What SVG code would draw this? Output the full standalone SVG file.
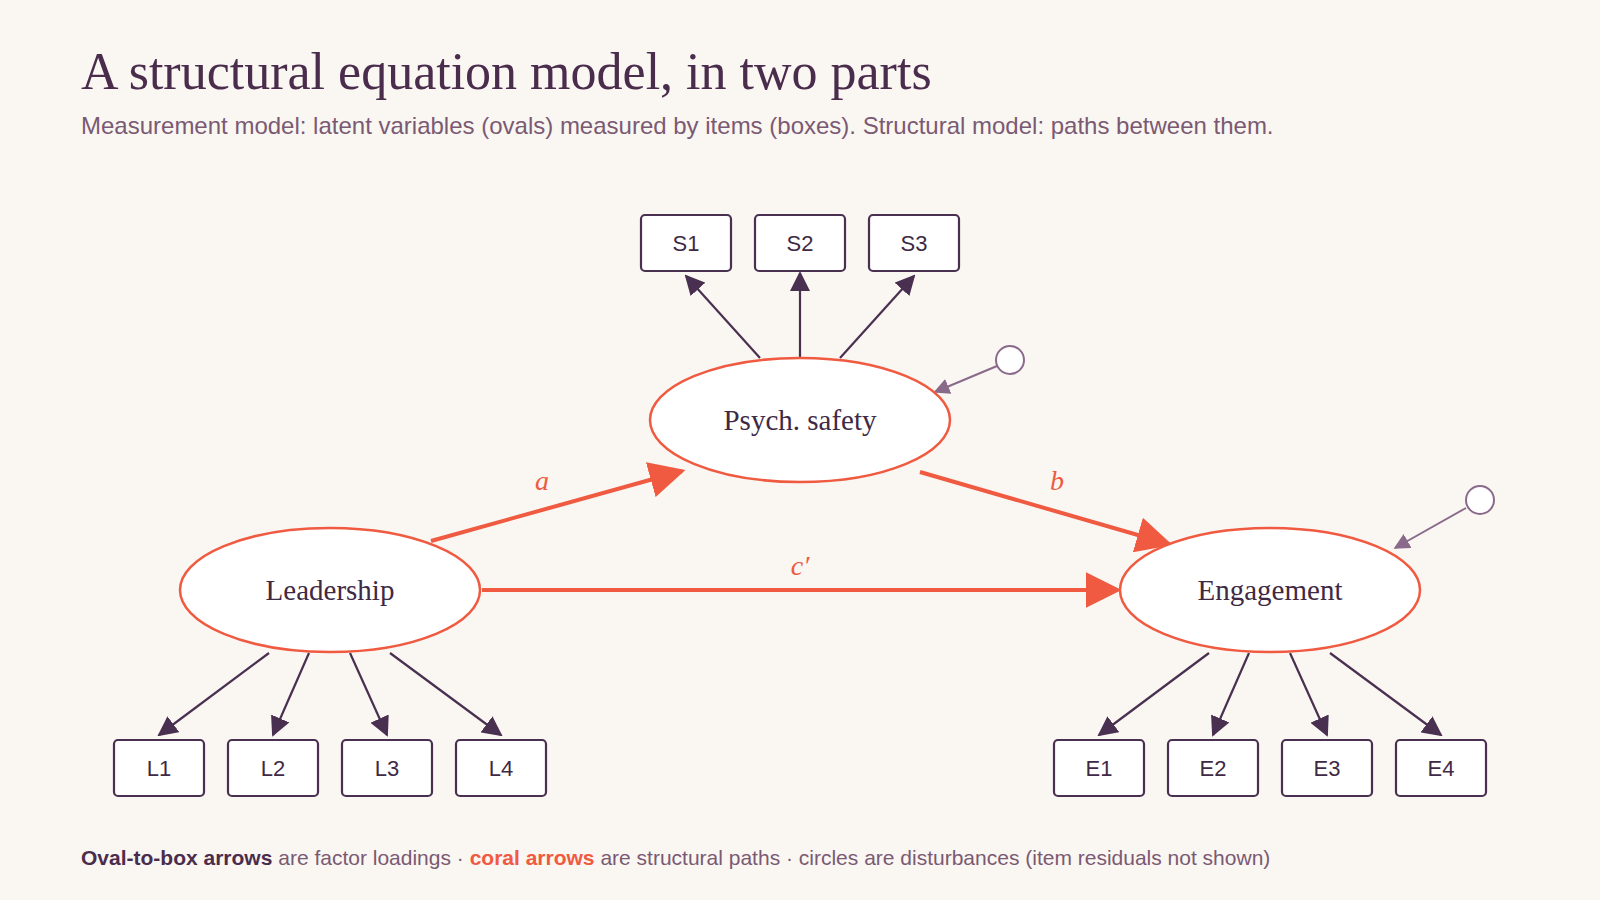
<svg xmlns="http://www.w3.org/2000/svg" width="1600" height="900" viewBox="0 0 1600 900">
<style>
.box{fill:#fff;stroke:#4a3050;stroke-width:2.2}
.oval{fill:#fff;stroke:#ef5a40;stroke-width:2.5}
.bt{font-family:"Liberation Sans",Arial,sans-serif;font-size:22px;fill:#3f2a45;text-anchor:middle}
.ot{font-family:"Liberation Serif","Times New Roman",serif;font-size:29px;fill:#3f2a45;text-anchor:middle}
.load{stroke:#4a3050;stroke-width:2.2;fill:none;marker-end:url(#md)}
.str{stroke:#ef5a40;stroke-width:4;fill:none;marker-end:url(#mc)}
.dist{stroke:#8a6a8a;stroke-width:2;fill:none;marker-end:url(#mp)}
.lab{font-family:"Liberation Serif","Times New Roman",serif;font-style:italic;font-size:28px;fill:#ef5a40;text-anchor:middle}
</style>
<defs>
<marker id="md" viewBox="0 0 10 10" refX="9" refY="5" markerWidth="20" markerHeight="20" markerUnits="userSpaceOnUse" orient="auto"><path d="M0,0L10,5L0,10z" fill="#4a3050"/></marker>
<marker id="mc" viewBox="0 0 10 10" refX="9" refY="5" markerWidth="36" markerHeight="36" markerUnits="userSpaceOnUse" orient="auto"><path d="M0,0L10,5L0,10z" fill="#ef5a40"/></marker>
<marker id="mp" viewBox="0 0 10 10" refX="9" refY="5" markerWidth="16" markerHeight="16" markerUnits="userSpaceOnUse" orient="auto"><path d="M0,0L10,5L0,10z" fill="#8a6a8a"/></marker>
</defs>
<rect width="1600" height="900" fill="#faf6f2"/>
<text x="81" y="89" font-family="Liberation Serif,serif" font-size="52" fill="#4a2d4c">A structural equation model, in two parts</text>
<text x="81" y="134" font-family="Liberation Sans,sans-serif" font-size="24" fill="#7a5a72">Measurement model: latent variables (ovals) measured by items (boxes). Structural model: paths between them.</text>
<g id="connectors">
<line class="load" x1="760" y1="358" x2="686" y2="276"/>
<line class="load" x1="800" y1="357" x2="800" y2="273"/>
<line class="load" x1="840" y1="358" x2="914" y2="276"/>
<line class="load" x1="269" y1="653" x2="159" y2="735"/>
<line class="load" x1="309" y1="653" x2="273" y2="735"/>
<line class="load" x1="350" y1="653" x2="387" y2="735"/>
<line class="load" x1="390" y1="653" x2="501" y2="735"/>
<line class="load" x1="1209" y1="653" x2="1099" y2="735"/>
<line class="load" x1="1249" y1="653" x2="1213" y2="735"/>
<line class="load" x1="1290" y1="653" x2="1327" y2="735"/>
<line class="load" x1="1330" y1="653" x2="1441" y2="735"/>
<line class="str" x1="431" y1="541" x2="682" y2="471"/>
<line class="str" x1="920" y1="472" x2="1169" y2="544"/>
<line class="str" x1="482" y1="590" x2="1118" y2="590"/>
<line class="dist" x1="997" y1="366" x2="935" y2="392"/>
<line class="dist" x1="1466" y1="508" x2="1395" y2="548"/>
<text class="lab" x="542" y="490">a</text>
<text class="lab" x="1057" y="490">b</text>
<text class="lab" x="800" y="575">c′</text>
</g>
<g id="d1"><circle cx="1010" cy="360" r="14" fill="#fff" stroke="#8a6a8a" stroke-width="2"/></g>
<g id="d2"><circle cx="1480" cy="500" r="14" fill="#fff" stroke="#8a6a8a" stroke-width="2"/></g>
<g id="psych"><ellipse class="oval" cx="800" cy="420" rx="150" ry="62"/><text class="ot" x="800" y="430">Psych. safety</text></g>
<g id="leadership"><ellipse class="oval" cx="330" cy="590" rx="150" ry="62"/><text class="ot" x="330" y="600">Leadership</text></g>
<g id="engagement"><ellipse class="oval" cx="1270" cy="590" rx="150" ry="62"/><text class="ot" x="1270" y="600">Engagement</text></g>
<g id="S1"><rect class="box" x="641" y="215" width="90" height="56" rx="4"/><text class="bt" x="686" y="251">S1</text></g>
<g id="S2"><rect class="box" x="755" y="215" width="90" height="56" rx="4"/><text class="bt" x="800" y="251">S2</text></g>
<g id="S3"><rect class="box" x="869" y="215" width="90" height="56" rx="4"/><text class="bt" x="914" y="251">S3</text></g>
<g id="L1"><rect class="box" x="114" y="740" width="90" height="56" rx="4"/><text class="bt" x="159" y="776">L1</text></g>
<g id="L2"><rect class="box" x="228" y="740" width="90" height="56" rx="4"/><text class="bt" x="273" y="776">L2</text></g>
<g id="L3"><rect class="box" x="342" y="740" width="90" height="56" rx="4"/><text class="bt" x="387" y="776">L3</text></g>
<g id="L4"><rect class="box" x="456" y="740" width="90" height="56" rx="4"/><text class="bt" x="501" y="776">L4</text></g>
<g id="E1"><rect class="box" x="1054" y="740" width="90" height="56" rx="4"/><text class="bt" x="1099" y="776">E1</text></g>
<g id="E2"><rect class="box" x="1168" y="740" width="90" height="56" rx="4"/><text class="bt" x="1213" y="776">E2</text></g>
<g id="E3"><rect class="box" x="1282" y="740" width="90" height="56" rx="4"/><text class="bt" x="1327" y="776">E3</text></g>
<g id="E4"><rect class="box" x="1396" y="740" width="90" height="56" rx="4"/><text class="bt" x="1441" y="776">E4</text></g>
<text x="81" y="865" font-family="Liberation Sans,sans-serif" font-size="21" fill="#7a5a72"><tspan font-weight="bold" fill="#4a2d4c">Oval-to-box arrows</tspan> are factor loadings · <tspan font-weight="bold" fill="#ef5a40">coral arrows</tspan> are structural paths · circles are disturbances (item residuals not shown)</text>
</svg>
